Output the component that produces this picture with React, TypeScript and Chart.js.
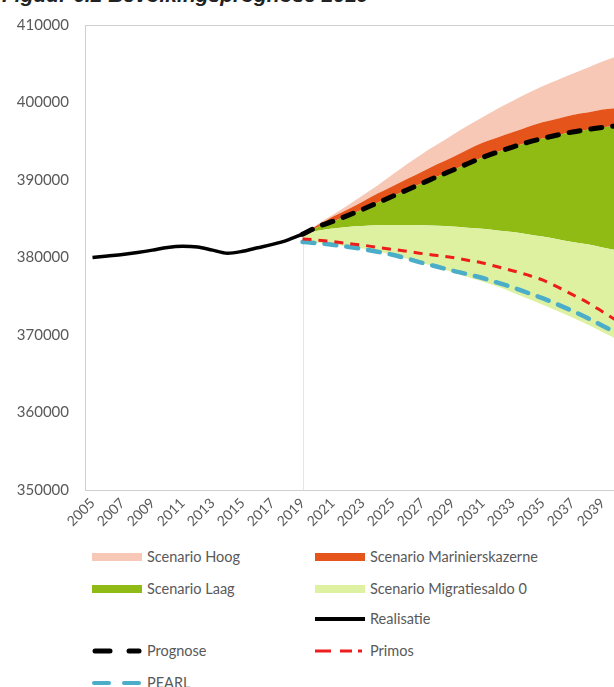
import React, { useEffect, useRef } from 'react';
import { Chart, registerables } from 'chart.js';

Chart.register(...registerables);

// ---------- DATA ----------
const years = [
  '2005', '2006', '2007', '2008', '2009', '2010', '2011', '2012', '2013', '2014',
  '2015', '2016', '2017', '2018', '2019', '2020', '2021', '2022', '2023', '2024',
  '2025', '2026', '2027', '2028', '2029', '2030', '2031', '2032', '2033', '2034',
  '2035', '2036', '2037', '2038', '2039', '2040',
];

const realisatieValues = [
  380000, 380200, 380400, 380650, 380950, 381300, 381450, 381350, 380950, 380550,
  380800, 381250, 381700, 382250, 383000,
];

// forecast series, 2019 .. 2040
const migratiesaldoLow = [
  382000, 381900, 381700, 381450, 381150, 380800, 380350, 379850, 379300, 378700,
  378100, 377500, 376900, 376250, 375500, 374700, 373900, 373100, 372250, 371350,
  370400, 369400,
];
const migratiesaldoHigh = [
  383000, 383450, 383750, 383950, 384050, 384150, 384200, 384200, 384150, 384100,
  384000, 383850, 383700, 383500, 383300, 383000, 382700, 382350, 382000, 381700,
  381300, 380900,
];
const laagValues = [
  383000, 383900, 384650, 385400, 386200, 387050, 387900, 388750, 389600, 390450,
  391250, 392100, 392900, 393600, 394250, 394850, 395350, 395800, 396200, 396500,
  396800, 397000,
];
const marinierskazerneValues = [
  383000, 384150, 385250, 386200, 387200, 388250, 389200, 390150, 391100, 392050,
  392950, 393900, 394800, 395500, 396150, 396850, 397450, 397900, 398400, 398700,
  399100, 399300,
];
const hoogValues = [
  383000, 384300, 385500, 386700, 388000, 389300, 390700, 392100, 393400, 394600,
  395800, 397000, 398100, 399200, 400200, 401200, 402100, 402900, 403700, 404500,
  405300, 406000,
];
const prognoseValues = [
  383000, 383950, 384650, 385400, 386200, 387050, 387900, 388750, 389600, 390450,
  391250, 392100, 392900, 393600, 394250, 394850, 395350, 395800, 396200, 396500,
  396800, 397000,
];
const primosValues = [
  382400, 382250, 382050, 381800, 381600, 381300, 381050, 380800, 380500, 380250,
  380000, 379650, 379300, 378800, 378300, 377750, 377100, 376200, 375200, 374200,
  373000, 371800,
];
const pearlValues = [
  382000, 381850, 381650, 381400, 381100, 380750, 380350, 379850, 379300, 378800,
  378300, 377850, 377350, 376750, 376150, 375450, 374750, 373950, 373100, 372200,
  371200, 370200,
];

const forecastStart = '2019';
const yMin = 350000;
const yMax = 410000;
const yStep = 10000;

// ---------- STYLE ----------
const C_HOOG = '#F8C8B6';
const C_MAR = '#E5541B';
const C_LAAG = '#8FBB14';
const C_MIG = '#DDF1A0';
const C_REAL = '#000000';
const C_PRIMOS = '#EE1D1D';
const C_PEARL = '#4BADC8';
const TEXT = '#595959';
const FONT = 'Lato, "Open Sans", sans-serif';

function fullSeries(values: number[], startLabel: string): (number | null)[] {
  const startIdx = years.indexOf(startLabel);
  return years.map((_, i) => {
    const k = i - startIdx;
    return k >= 0 && k < values.length ? values[k] : null;
  });
}

const boxPlugin = {
  id: 'boxAndStart',
  beforeDatasetsDraw(chart: any) {
    const { ctx, chartArea, scales } = chart;
    const x = scales.x.getPixelForValue(years.indexOf(forecastStart));
    const yTop = scales.y.getPixelForValue(migratiesaldoLow[0]);
    ctx.save();
    ctx.strokeStyle = '#E4EFC0';
    ctx.lineWidth = 1;
    ctx.beginPath();
    ctx.moveTo(Math.round(x) + 0.5, yTop);
    ctx.lineTo(Math.round(x) + 0.5, chartArea.bottom);
    ctx.stroke();
    ctx.restore();
  },
  afterDraw(chart: any) {
    const { ctx, chartArea } = chart;
    ctx.save();
    ctx.strokeStyle = '#CFCFCF';
    ctx.lineWidth = 1;
    ctx.strokeRect(
      Math.round(chartArea.left) + 0.5,
      Math.round(chartArea.top) + 0.5,
      Math.round(chartArea.right - chartArea.left),
      Math.round(chartArea.bottom - chartArea.top)
    );
    ctx.restore();
  },
};

function ChartCanvas() {
  const ref = useRef<HTMLCanvasElement | null>(null);
  useEffect(() => {
    if (!ref.current) return;
    const area = (label: string, data: (number | null)[], color: string, target: number | false) => ({
      label,
      data,
      borderWidth: 0,
      borderColor: 'transparent',
      backgroundColor: color,
      pointRadius: 0,
      fill: target === false ? false : { target },
      cubicInterpolationMode: 'monotone',
    });
    const chart = new Chart(ref.current, {
      type: 'line',
      data: {
        labels: years,
        datasets: [
          area('migLow', fullSeries(migratiesaldoLow, forecastStart), 'transparent', false),
          area('Scenario Migratiesaldo 0', fullSeries(migratiesaldoHigh, forecastStart), C_MIG, 0),
          area('Scenario Laag', fullSeries(laagValues, forecastStart), C_LAAG, 1),
          area('Scenario Marinierskazerne', fullSeries(marinierskazerneValues, forecastStart), C_MAR, 2),
          area('Scenario Hoog', fullSeries(hoogValues, forecastStart), C_HOOG, 3),
          {
            label: 'Realisatie',
            data: fullSeries(realisatieValues, '2005'),
            borderColor: C_REAL,
            borderWidth: 3.5,
            pointRadius: 0,
            fill: false,
            cubicInterpolationMode: 'monotone',
          },
          {
            label: 'Primos',
            data: fullSeries(primosValues, forecastStart),
            borderColor: C_PRIMOS,
            borderWidth: 3,
            borderDash: [9, 7],
            pointRadius: 0,
            fill: false,
            cubicInterpolationMode: 'monotone',
          },
          {
            label: 'PEARL',
            data: fullSeries(pearlValues, forecastStart),
            borderColor: C_PEARL,
            borderWidth: 4.5,
            borderDash: [12, 10],
            borderCapStyle: 'round',
            pointRadius: 0,
            fill: false,
            cubicInterpolationMode: 'monotone',
          },
          {
            label: 'Prognose',
            data: fullSeries(prognoseValues, forecastStart),
            borderColor: C_REAL,
            borderWidth: 5,
            borderDash: [11, 11],
            borderCapStyle: 'round',
            pointRadius: 0,
            fill: false,
            cubicInterpolationMode: 'monotone',
          },
        ],
      },
      options: {
        responsive: false,
        animation: false,
        devicePixelRatio: 1,
        layout: { padding: { top: 18, right: 15, left: 0, bottom: 0 } },
        plugins: {
          legend: { display: false },
          tooltip: { enabled: false },
          filler: { drawTime: 'beforeDatasetsDraw' },
        },
        scales: {
          x: {
            type: 'category',
            offset: true,
            grid: { display: false, drawTicks: false },
            border: { display: false },
            ticks: {
              autoSkip: false,
              maxRotation: 45,
              minRotation: 45,
              padding: 5,
              color: TEXT,
              font: { family: FONT, size: 14 },
              callback: (_v: any, i: number) => (i % 2 === 0 ? years[i] : ''),
            },
            afterFit: (s: any) => {
              s.height = 55;
            },
          },
          y: {
            min: yMin,
            max: yMax,
            grid: { display: false, drawTicks: false },
            border: { display: false },
            ticks: {
              stepSize: yStep,
              padding: 16,
              color: TEXT,
              font: { family: FONT, size: 15 },
              callback: (v: any) => String(v),
            },
            afterFit: (s: any) => {
              s.width = 85;
            },
          },
        },
      },
      plugins: [boxPlugin],
    } as any);
    return () => chart.destroy();
  }, []);
  return (
    <canvas
      ref={ref}
      width={640}
      height={545}
      style={{ position: 'absolute', left: 0, top: 0, width: 640, height: 545 }}
    />
  );
}

type LegendKind = 'box' | 'solid' | 'prognose' | 'primos' | 'pearl';
const legendLabels = [
  'Scenario Hoog', 'Scenario Marinierskazerne', 'Scenario Laag', 'Scenario Migratiesaldo 0',
  'Realisatie', 'Prognose', 'Primos', 'PEARL',
];
const legendKinds: LegendKind[] = ['box', 'box', 'box', 'box', 'solid', 'prognose', 'primos', 'pearl'];
const legendColors = [C_HOOG, C_MAR, C_LAAG, C_MIG, C_REAL, C_REAL, C_PRIMOS, C_PEARL];
const legendCols = [0, 1, 0, 1, 1, 0, 1, 0];
const legendRows = [0, 0, 1, 1, 2, 3, 3, 4];

const rowY = [557, 589, 619, 651, 683];
const colX = [92, 315];

function Swatch({ kind, color }: { kind: LegendKind; color: string }) {
  const w = 50;
  const h = 12;
  let inner: any = null;
  if (kind === 'box') inner = <rect x={0} y={2} width={w} height={8} fill={color} />;
  if (kind === 'solid') inner = <line x1={0} y1={6} x2={w} y2={6} stroke={color} strokeWidth={4} strokeLinecap="round" />;
  if (kind === 'prognose')
    inner = (
      <g stroke={color} strokeWidth={5} strokeLinecap="round">
        <line x1={3} y1={6} x2={18} y2={6} />
        <line x1={37} y1={6} x2={47} y2={6} />
      </g>
    );
  if (kind === 'primos')
    inner = (
      <g stroke={color} strokeWidth={3}>
        <line x1={0} y1={6} x2={16} y2={6} />
        <line x1={25} y1={6} x2={37} y2={6} />
        <line x1={43} y1={6} x2={47} y2={6} />
      </g>
    );
  if (kind === 'pearl')
    inner = (
      <g stroke={color} strokeWidth={4} strokeLinecap="round">
        <line x1={2} y1={6} x2={17} y2={6} />
        <line x1={32} y1={6} x2={47} y2={6} />
      </g>
    );
  return (
    <svg width={w} height={h} style={{ position: 'absolute', left: 0, top: -6 }}>
      {inner}
    </svg>
  );
}

export default function App() {
  return (
    <div
      style={{
        position: 'absolute',
        left: 0,
        top: 0,
        width: 614,
        height: 687,
        overflow: 'hidden',
        background: '#ffffff',
      }}
    >
      <div
        style={{
          position: 'absolute',
          left: 2,
          top: -16,
          fontFamily: '"Liberation Sans", Arial, sans-serif',
          fontWeight: 'bold',
          fontStyle: 'italic',
          fontSize: 21,
          lineHeight: '22px',
          color: '#222222',
          whiteSpace: 'nowrap',
        }}
      >
        Figuur 6.2 Bevolkingsprognose 2019
      </div>
      <ChartCanvas />
      {legendLabels.map((label, i) => (
        <div
          key={label}
          style={{ position: 'absolute', left: colX[legendCols[i]], top: rowY[legendRows[i]], height: 0 }}
        >
          <Swatch kind={legendKinds[i]} color={legendColors[i]} />
          <span
            style={{
              position: 'absolute',
              left: 55,
              top: -10,
              fontFamily: FONT,
              fontSize: 14.5,
              lineHeight: '20px',
              color: TEXT,
              whiteSpace: 'nowrap',
            }}
          >
            {label}
          </span>
        </div>
      ))}
    </div>
  );
}
